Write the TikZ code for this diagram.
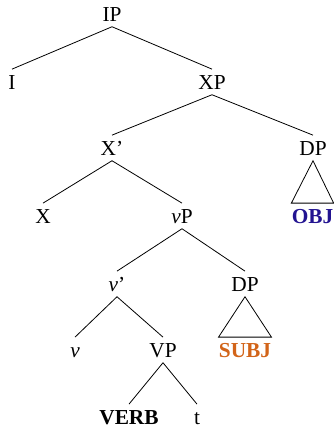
\documentclass[tikz,border=0pt]{standalone}
\usepackage{fontspec}
\setmainfont{Liberation Serif}
\usepackage{tikz}
\usetikzlibrary{calc}
\definecolor{objblue}{RGB}{35,20,145}
\definecolor{subjorange}{RGB}{210,100,25}

\begin{document}
\begin{tikzpicture}[x=0.75pt,y=-0.75pt,line width=0.6pt,
    lbl/.style={anchor=base,inner xsep=1pt,inner ysep=4pt,text height=10.6pt,text depth=0pt,font=\fontsize{16}{19}\selectfont},
    leaf/.style={lbl,inner xsep=0pt,font=\fontsize{16}{19}\selectfont\bfseries}]
                    \useasboundingbox (0,0) rectangle (334,426);
                    \draw (112,21) node[lbl,name=IP] {IP};
                    \draw (12,89) node[lbl,name=I] {I};
                    \draw (212,89) node[lbl,name=XP] {XP};
                    \draw (112,155) node[lbl,name=Xbar] {X'};
                    \draw (313,155) node[lbl,name=DPobj] {DP};
                    \draw (43,223) node[lbl,name=X] {X};
                    \draw (182,223) node[lbl,name=vP] {\textit{v}P};
                    \draw (312.5,223) node[leaf,text=objblue,name=OBJ] {OBJ};
                    \draw (117,291) node[lbl,name=vbar] {\textit{v}'};
                    \draw (245,291) node[lbl,name=DPsubj] {DP};
                    \draw (75,357) node[lbl,name=v] {\textit{v}};
                    \draw (163,357) node[lbl,name=VP] {VP};
                    \draw (245,357) node[leaf,text=subjorange,name=SUBJ] {SUBJ};
                    \draw (129,424) node[leaf,name=VERB] {VERB};
                    \draw (197,424) node[lbl,name=t] {t};
                    \draw (IP.south) -- (I.north);
                    \draw (IP.south) -- (XP.north);
                    \draw (XP.south) -- (Xbar.north);
                    \draw (XP.south) -- (DPobj.north);
                    \draw (Xbar.south) -- (X.north);
                    \draw (Xbar.south) -- (vP.north);
                    \draw (vP.south) -- (vbar.north);
                    \draw (vP.south) -- (DPsubj.north);
                    \draw (vbar.south) -- (v.north);
                    \draw (vbar.south) -- (VP.north);
                    \draw (VP.south) -- (VERB.north);
                    \draw (VP.south) -- (t.north);
                    \draw (DPobj.south) -- (OBJ.north west) -- (OBJ.north east) -- cycle;
                    \draw (DPsubj.south) -- (SUBJ.north west) -- (SUBJ.north east) -- cycle;
                \end{tikzpicture}
\end{document}
